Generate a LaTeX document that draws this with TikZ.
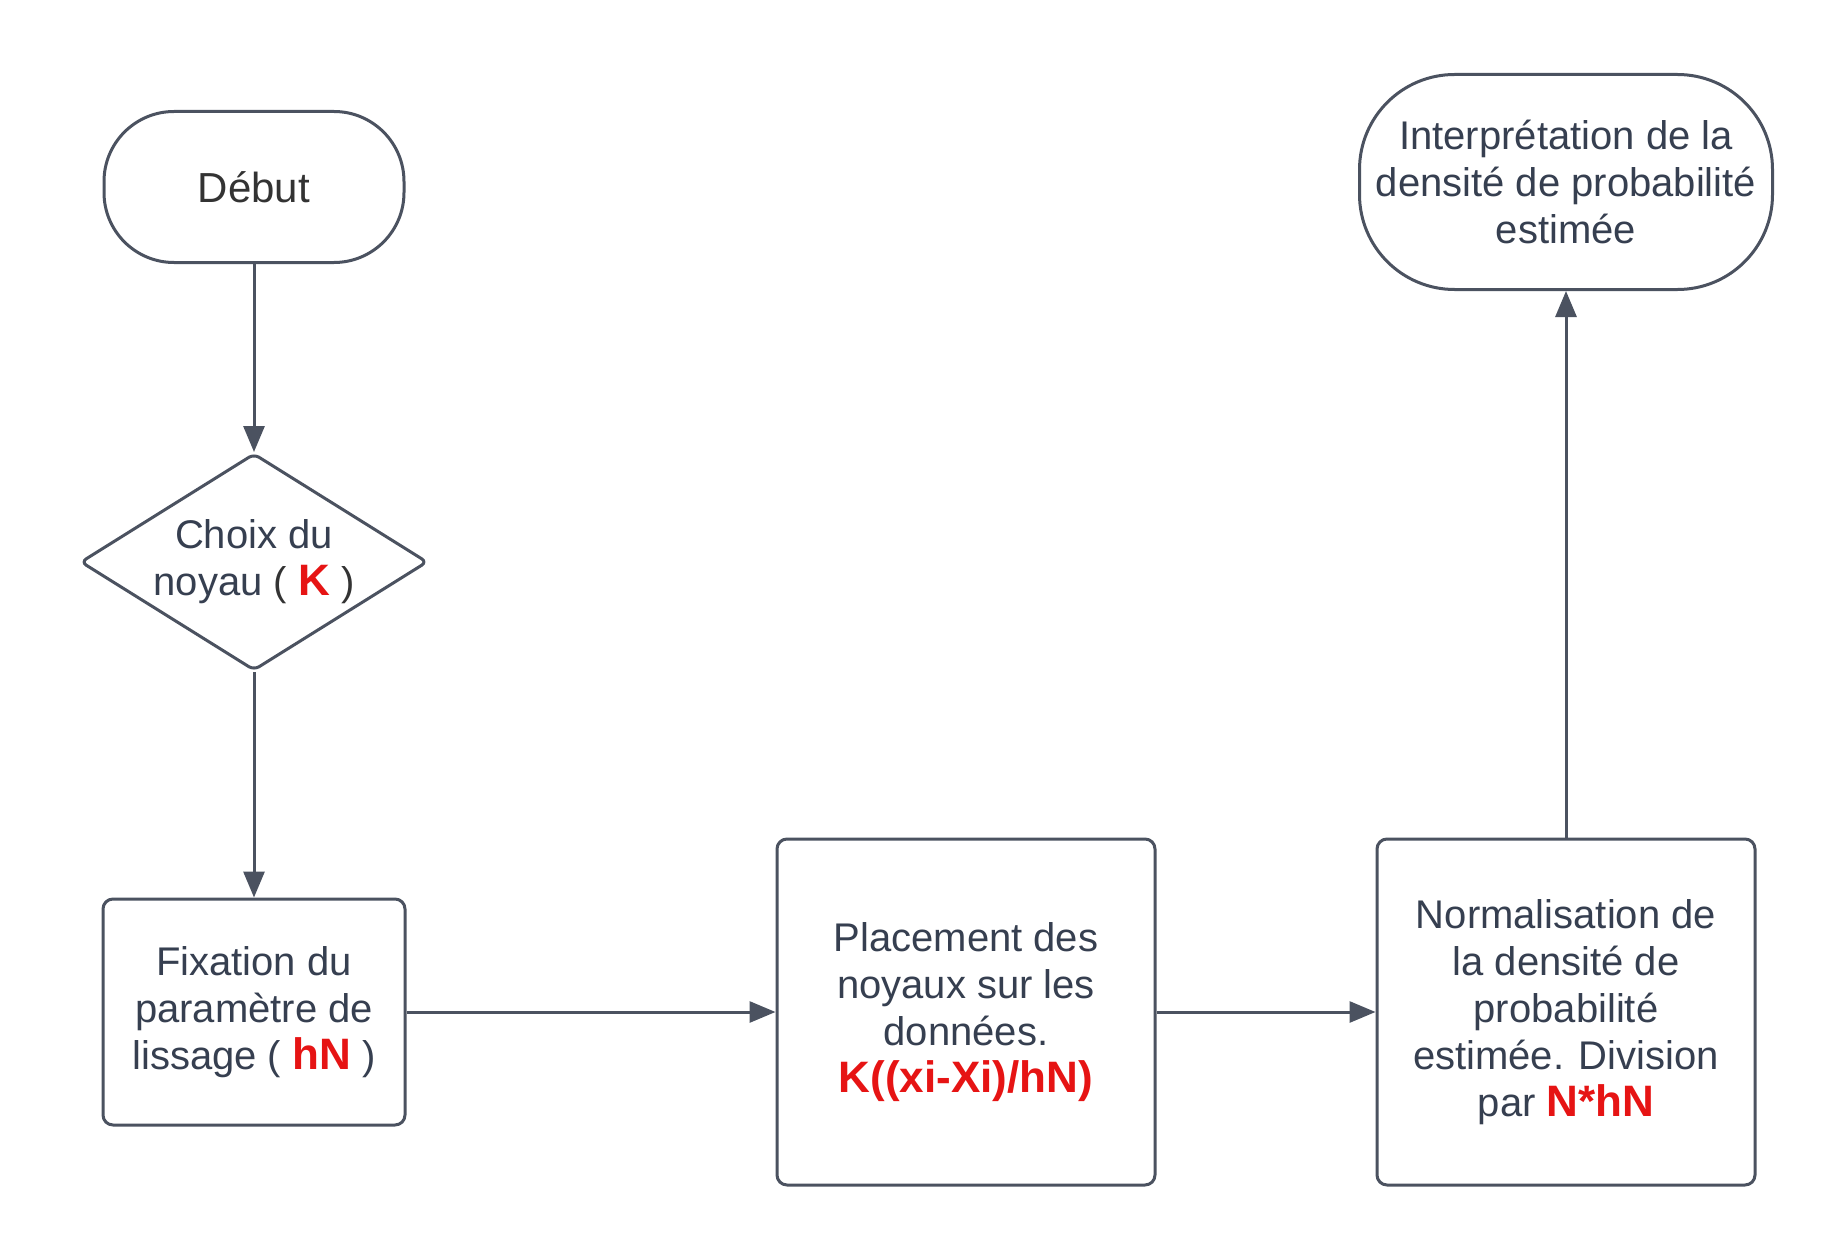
\documentclass[tikz,border=0pt]{standalone}
\usepackage{fontspec}
\setmainfont{Liberation Sans}
\usetikzlibrary{arrows.meta,shapes.geometric}
\definecolor{linec}{RGB}{75,82,96}
\definecolor{textc}{RGB}{54,63,80}
\definecolor{darkc}{RGB}{51,51,51}
\definecolor{redc}{RGB}{230,20,20}
\newcommand{\redb}[1]{\textcolor{redc}{\fontsize{44}{47}\selectfont\bfseries #1}}
\begin{document}
\begin{tikzpicture}[x=1pt,y=-1pt,
  base/.style={draw=linec, line width=3pt, fill=white, text=textc, align=center,
    font=\fontsize{40}{47}\selectfont, inner sep=0pt},
  term/.style={base, rectangle},
  proc/.style={base, rectangle, rounded corners=10pt},
  dec/.style={base, diamond, rounded corners=6pt, minimum width=347pt, minimum height=217pt, aspect=1.6},
  arr/.style={draw=linec, line width=3pt, -{Triangle[length=26pt,width=21pt]}}]
\useasboundingbox (0,0) rectangle (1847,1260);
\node[term, minimum width=300pt, minimum height=151pt, rounded corners=70pt, text=darkc,
  font=\fontsize{42}{50}\selectfont] (debut) at (254,187) {Début};
\node[dec] (choix) at (254,562) {Choix du\\noyau {\color{darkc}(} \redb{K} {\color{darkc})}};
\node[proc, minimum width=302pt, minimum height=226pt] (fix) at (254,1012)
  {Fixation du\\paramètre de\\lissage ( \redb{hN} )};
\node[proc, minimum width=378pt, minimum height=346pt] (place) at (966,1012)
  {Placement des\\noyaux sur les\\données.\\\redb{K((xi-Xi)/hN)}};
\node[proc, minimum width=378pt, minimum height=346pt] (norm) at (1566,1012)
  {Normalisation de\\la densité de\\probabilité\\estimée. Division\\par \redb{N*hN}};
\node[term, minimum width=413pt, minimum height=215pt, rounded corners=95pt] (interp) at (1566,182)
  {Interprétation de la\\densité de probabilité\\estimée};
\draw[arr] (debut.south) -- (choix.north);
\draw[arr] (choix.south) -- (fix.north);
\draw[arr] (fix.east) -- (place.west);
\draw[arr] (place.east) -- (norm.west);
\draw[arr] (norm.north) -- (interp.south);
\end{tikzpicture}
\end{document}
